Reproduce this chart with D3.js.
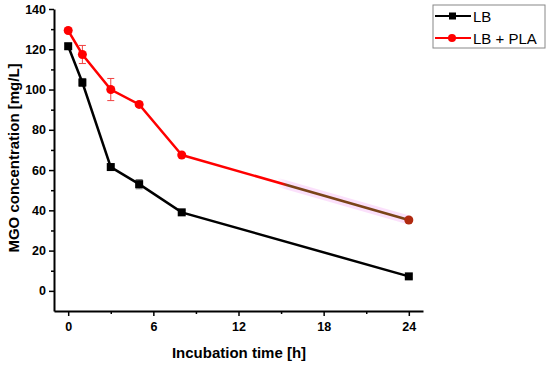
<!DOCTYPE html>
<html>
<head>
<meta charset="utf-8">
<script src="https://cdn.jsdelivr.net/npm/d3@7"></script>
<style>
body{margin:0;background:#fff;}
text{font-family:"Liberation Sans",Arial,sans-serif;}
</style>
</head>
<body>
<svg width="550" height="365"></svg>
<script>
var hours = [0, 1, 3, 5, 8, 24];
var lbValues = [121.5, 103.5, 61.5, 53, 39, 7.2];
var lbErrors = [1.5, 2, 1, 2.3, 1, 1];
var plaValues = [129.3, 117.4, 100, 92.6, 67.5, 35.2];
var plaErrors = [1, 4.5, 5.5, 1, 0.5, 1];
var xTicks = [0, 6, 12, 18, 24];
var xMinor = [3, 9, 15, 21];
var yTicks = [0, 20, 40, 60, 80, 100, 120, 140];
var yMinor = [10, 30, 50, 70, 90, 110, 130];

var svg = d3.select("svg");

var x = d3.scaleLinear().domain([-1, 25]).range([54, 423]);
var y = d3.scaleLinear().domain([-10, 140]).range([311, 9]);

// minor ticks
svg.append("g")
  .attr("transform", "translate(54,0)")
  .call(d3.axisLeft(y).tickValues(yMinor).tickSize(3).tickFormat(""))
  .call(g => g.select(".domain").remove())
  .selectAll("line").attr("stroke-width", 1.5);
svg.append("g")
  .attr("transform", "translate(0,311)")
  .call(d3.axisBottom(x).tickValues(xMinor).tickSize(3).tickFormat(""))
  .call(g => g.select(".domain").remove())
  .selectAll("line").attr("stroke-width", 1.5);

var yAxis = svg.append("g")
  .attr("transform", "translate(54,0)")
  .call(d3.axisLeft(y).tickValues(yTicks).tickSize(5).tickSizeOuter(0).tickPadding(3));
var xAxis = svg.append("g")
  .attr("transform", "translate(0,311)")
  .call(d3.axisBottom(x).tickValues(xTicks).tickSize(5).tickSizeOuter(0).tickPadding(6));

[yAxis, xAxis].forEach(function(g){
  g.select(".domain").attr("stroke-width", 2);
  g.selectAll(".tick line").attr("stroke-width", 1.5);
  g.selectAll("text").attr("font-size", 12.5).attr("font-weight", "bold")
    .attr("fill", "#000").style("font-family", "'Liberation Sans',Arial,sans-serif");
});

svg.append("text")
  .attr("transform", "translate(19,158) rotate(-90)")
  .attr("text-anchor", "middle")
  .attr("font-size", 15).attr("font-weight", "bold")
  .text("MGO concentration [mg/L]");
svg.append("text")
  .attr("x", 239).attr("y", 358)
  .attr("text-anchor", "middle")
  .attr("font-size", 15).attr("font-weight", "bold")
  .text("Incubation time [h]");

var lb = hours.map((h, i) => ({t: h, v: lbValues[i], e: lbErrors[i]}));
var pla = hours.map((h, i) => ({t: h, v: plaValues[i], e: plaErrors[i]}));

var line = d3.line().x(d => x(d.t)).y(d => y(d.v));

// gradient for the discoloured tail of the red line
var defs = svg.append("defs");
var grad = defs.append("linearGradient").attr("id", "tail")
  .attr("gradientUnits", "userSpaceOnUse")
  .attr("x1", x(8)).attr("x2", x(24)).attr("y1", 0).attr("y2", 0);
grad.append("stop").attr("offset", 0.44).attr("stop-color", "#ff0000");
grad.append("stop").attr("offset", 0.47).attr("stop-color", "#7a4418");
var halo = defs.append("linearGradient").attr("id", "halo")
  .attr("gradientUnits", "userSpaceOnUse")
  .attr("x1", x(8)).attr("x2", x(24)).attr("y1", 0).attr("y2", 0);
halo.append("stop").attr("offset", 0.42).attr("stop-color", "#fbe0fb").attr("stop-opacity", 0);
halo.append("stop").attr("offset", 0.46).attr("stop-color", "#fbe0fb").attr("stop-opacity", 1);

svg.append("path").datum(pla.slice(4))
  .attr("fill", "none").attr("stroke", "url(#halo)").attr("stroke-width", 9)
  .attr("d", line);

// error bars
function errorBars(data, color) {
  var g = svg.append("g").attr("stroke", color).attr("stroke-width", 1);
  g.selectAll(".v").data(data).enter().append("line")
    .attr("x1", d => x(d.t)).attr("x2", d => x(d.t))
    .attr("y1", d => y(d.v - d.e)).attr("y2", d => y(d.v + d.e));
  g.selectAll(".t").data(data).enter().append("line")
    .attr("x1", d => x(d.t) - 3.5).attr("x2", d => x(d.t) + 3.5)
    .attr("y1", d => y(d.v + d.e)).attr("y2", d => y(d.v + d.e));
  g.selectAll(".b").data(data).enter().append("line")
    .attr("x1", d => x(d.t) - 3.5).attr("x2", d => x(d.t) + 3.5)
    .attr("y1", d => y(d.v - d.e)).attr("y2", d => y(d.v - d.e));
}
errorBars(lb, "#777");
errorBars(pla, "#f04040");

svg.append("path").datum(lb)
  .attr("fill", "none").attr("stroke", "#000").attr("stroke-width", 2.5)
  .attr("d", line);
svg.selectAll(".sq").data(lb).enter().append("rect")
  .attr("x", d => x(d.t) - 4).attr("y", d => y(d.v) - 4)
  .attr("width", 8).attr("height", 8).attr("fill", "#000");

svg.append("path").datum(pla.slice(0, 5))
  .attr("fill", "none").attr("stroke", "#ff0000").attr("stroke-width", 2.5)
  .attr("d", line);
svg.append("path").datum(pla.slice(4))
  .attr("fill", "none").attr("stroke", "url(#tail)").attr("stroke-width", 2.5)
  .attr("d", line);
svg.selectAll(".ci").data(pla).enter().append("circle")
  .attr("cx", d => x(d.t)).attr("cy", d => y(d.v)).attr("r", 4.5)
  .attr("fill", (d, i) => i == pla.length - 1 ? "#b02a10" : "#ff0000");

// legend
var legend = svg.append("g");
legend.append("rect").attr("x", 433).attr("y", 5).attr("width", 112).attr("height", 43)
  .attr("fill", "#fff").attr("stroke", "#888").attr("stroke-width", 1);
var items = [{name: "LB", color: "#000", shape: "square"}, {name: "LB + PLA", color: "#ff0000", shape: "circle"}];
items.forEach(function(it, i) {
  var cy = 16 + i * 22;
  legend.append("line").attr("x1", 435).attr("x2", 471).attr("y1", cy).attr("y2", cy)
    .attr("stroke", it.color).attr("stroke-width", 2);
  if (it.shape == "square")
    legend.append("rect").attr("x", 449).attr("y", cy - 3.5).attr("width", 7).attr("height", 7).attr("fill", it.color);
  else
    legend.append("circle").attr("cx", 452).attr("cy", cy).attr("r", 4).attr("fill", it.color);
  legend.append("text").attr("x", 473).attr("y", cy + 5.5)
    .attr("font-size", 15).text(it.name);
});
</script>
</body>
</html>
